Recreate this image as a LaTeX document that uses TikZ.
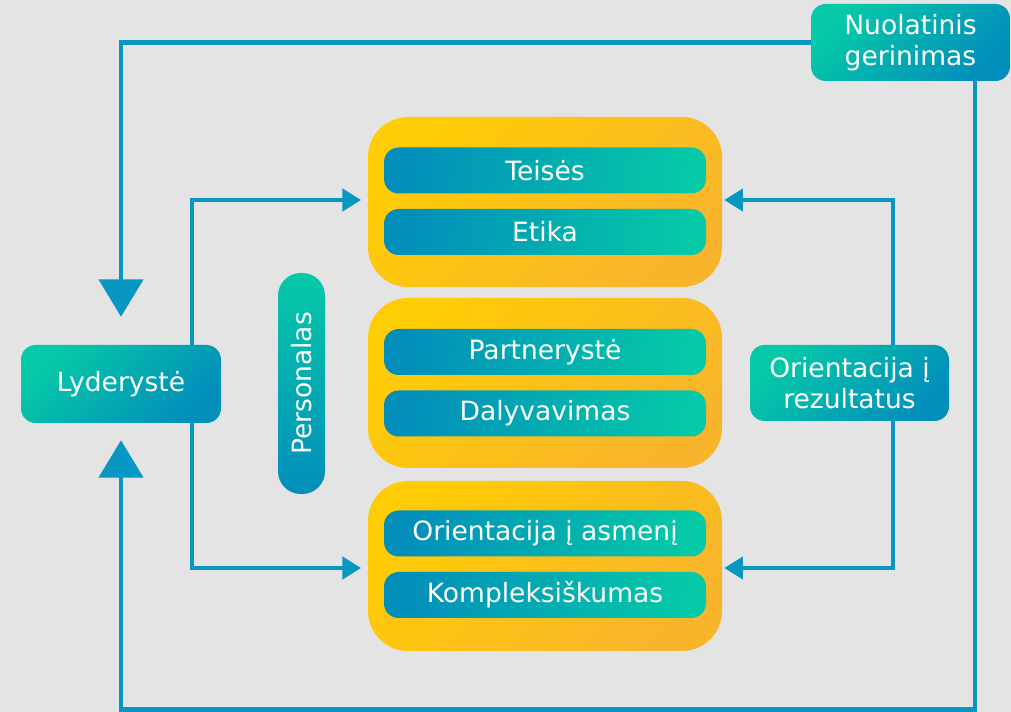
\documentclass[tikz,border=0pt]{standalone}
\usepackage{fontspec}
\setmainfont{DejaVu Sans}
\usetikzlibrary{arrows.meta,calc}
\definecolor{bgc}{HTML}{E4E4E4}
\definecolor{cteal}{HTML}{05C9A7}
\definecolor{cblue}{HTML}{028EBB}
\definecolor{cyel}{HTML}{FFCC05}
\definecolor{corg}{HTML}{F8B52C}
\definecolor{cline}{HTML}{0896C3}
\newcommand\labfont{\fontsize{19.9}{23.3}\selectfont}
\tikzset{
  gbox/.style={rounded corners=11pt, top color=cteal, bottom color=cblue, shading angle=45,
    text=white, align=center, inner sep=0pt, font=\labfont},
  pbox/.style={rounded corners=17pt, top color=cteal, bottom color=cblue,
    text=white, inner sep=0pt, font=\labfont},
  cont/.style={rounded corners=30pt, top color=cyel, bottom color=corg, shading angle=45,
    minimum width=265.5pt, minimum height=127.5pt, inner sep=0pt},
  bar/.style={rounded corners=11pt, left color=cblue, right color=cteal, shading angle=80,
    minimum width=241.5pt, minimum height=34.5pt, inner sep=0pt, text=white, font=\labfont},
  ln/.style={draw=cline, line width=3.2pt},
  smallarr/.style={ln, -{Triangle[width=16.5pt,length=14pt]}},
  bigarr/.style={ln, -{Triangle[width=33pt,length=28pt]}}
}
\begin{document}
\begin{tikzpicture}[x=0.75pt,y=-0.75pt]
\fill[bgc] (0,0) rectangle (1011,712);
\useasboundingbox (0,0) rectangle (1011,712);

% containers
\node[cont] (c1) at (545,202) {};
\node[cont] (c2) at (545,383) {};
\node[cont] (c3) at (545,566) {};

% bars
\node[bar] (teises) at (545,170.5) {Teisės};
\node[bar] (etika) at (545,232) {Etika};
\node[bar] (partn) at (545,352) {Partnerystė};
\node[bar] (dalyv) at (545,413.5) {Dalyvavimas};
\node[bar] (orasm) at (545,533.5) {Orientacija į asmenį};
\node[bar] (kompl) at (545,595) {Kompleksiškumas};

% side boxes
\node[gbox, minimum width=149.25pt, minimum height=57.75pt] (nuo) at (910.5,42.5) {Nuolatinis\\gerinimas};
\node[gbox, minimum width=150pt, minimum height=58.5pt] (lyd) at (121,384) {Lyderystė};
\node[gbox, minimum width=149.25pt, minimum height=57pt] (ori) at (849.5,383) {Orientacija į\\rezultatus};
\node[pbox, minimum width=35.25pt, minimum height=165.75pt] (per) at (301.5,383.5) {\rotatebox{90}{Personalas}};

\coordinate (bot) at (121,709.5);

% connectors
\draw[bigarr, shorten >=21pt] (nuo.west) -| (lyd.north);
\draw[bigarr, shorten >=12.75pt] ([xshift=-26.25pt]nuo.south east) |- (bot) -- (lyd.south);
\draw[smallarr, shorten >=5pt] ([xshift=-21.75pt]lyd.north east) |- ([yshift=1.5pt]c1.west);
\draw[smallarr, shorten >=5pt] ([xshift=-21.75pt]lyd.south east) |- ([yshift=-1.5pt]c3.west);
\draw[smallarr, shorten >=1.5pt] ([xshift=32.6pt]ori.north) |- ([yshift=1.5pt]c1.east);
\draw[smallarr, shorten >=1.5pt] ([xshift=32.6pt]ori.south) |- ([yshift=-1.5pt]c3.east);
\end{tikzpicture}
\end{document}
